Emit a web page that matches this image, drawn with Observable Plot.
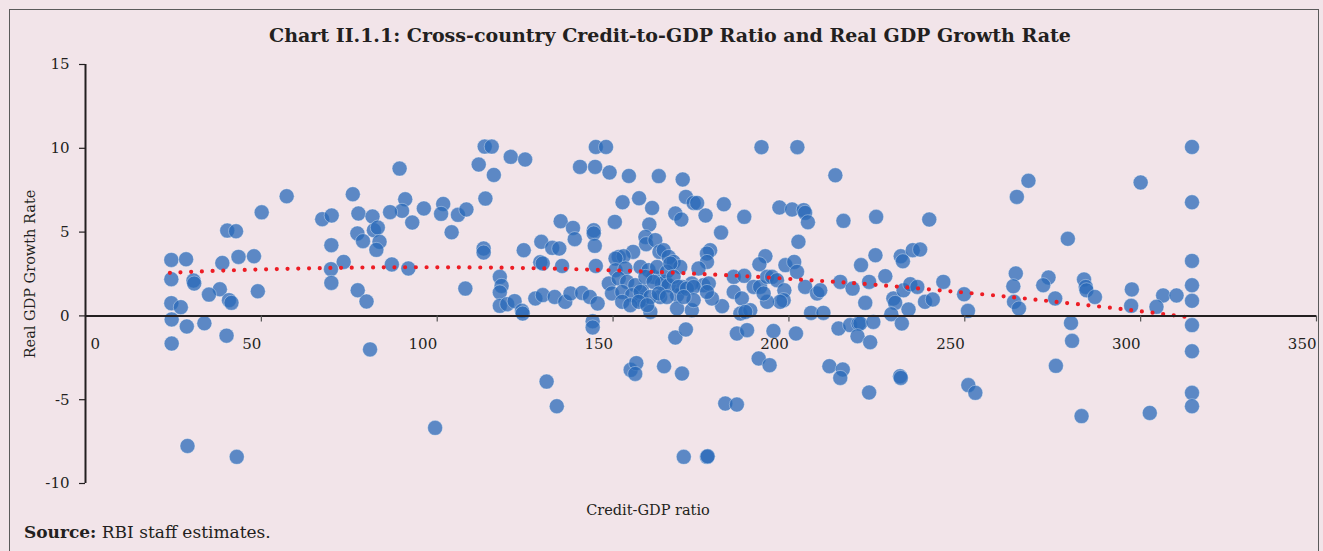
<!DOCTYPE html>
<html><head><meta charset="utf-8">
<script src="https://cdn.jsdelivr.net/npm/d3@7"></script>
<script src="https://cdn.jsdelivr.net/npm/@observablehq/plot@0.6"></script>
<style>
html,body{margin:0;padding:0;background:#f2e4e9;}
#wrap{position:relative;width:1323px;height:551px;overflow:hidden;background:#f2e4e9;font-family:"DejaVu Serif",serif;color:#231f20;}
#frame{position:absolute;left:9px;top:9px;width:1310px;height:600px;border:1.5px solid #5a5a5a;box-sizing:border-box;}
#title{position:absolute;top:24px;left:0;width:1340px;text-align:center;font-weight:bold;font-size:19px;}
#chart{position:absolute;left:0;top:0;}
#source{position:absolute;left:24px;top:522px;font-size:17px;}
</style></head><body>
<div id="wrap"><div id="frame"></div><div id="chart"></div>
<div id="title">Chart II.1.1: Cross-country Credit-to-GDP Ratio and Real GDP Growth Rate</div>
<div id="source"><b>Source:</b> RBI staff estimates.</div></div>
<script>
const credit = [57.2,50.1,76.0,77.6,81.6,82.0,83.1,67.3,70.0,40.3,42.8,69.9,77.3,78.9,83.6,82.7,24.4,28.6,38.9,43.5,47.9,73.4,69.8,24.4,30.7,30.9,69.9,38.2,35.1,49.0,77.4,79.9,40.8,41.5,24.4,27.1,24.5,28.8,33.8,40.1,24.5,80.9,29.0,43.0,87.1,89.3,90.9,90.0,86.6,92.9,96.2,91.8,99.4,
101.7,101.1,105.9,108.3,104.1,108.0,113.5,115.5,111.8,116.1,120.9,125.0,113.7,113.2,113.2,117.8,118.3,117.8,117.8,119.9,122.0,124.1,124.3,124.6,129.6,132.7,134.7,135.1,138.6,139.1,129.3,130.0,135.5,127.9,130.0,133.4,136.4,137.9,141.2,143.4,145.6,140.6,144.9,149.0,145.1,148.0,144.5,144.5,144.8,145.1,131.1,134.0,144.2,144.2,
154.5,152.7,157.4,161.1,160.3,150.5,163.0,155.7,151.6,153.0,159.2,159.4,162.0,163.2,155.0,156.6,156.3,164.5,169.6,192.2,202.4,169.8,170.7,172.9,173.9,181.5,167.7,169.4,176.3,187.3,180.7,197.3,200.9,204.2,204.6,205.4,202.7,193.3,191.6,199.0,201.5,202.3,164.4,165.8,167.2,169.1,177.6,176.7,176.7,174.3,184.3,187.3,190.0,191.8,193.8,195.2,196.6,198.7,198.5,197.5,193.8,192.8,204.6,208.0,208.9,184.3,186.6,186.2,189.0,187.6,206.3,181.0,178.1,175.7,172.4,169.6,168.2,172.4,168.2,163.4,160.6,158.2,158.2,161.5,164.8,163.9,167.7,170.7,185.2,188.1,195.6,202.0,191.4,194.5,181.9,185.2,170.1,176.7,176.9,
150.7,150.7,153.5,157.8,160.1,162.5,165.3,148.8,151.6,154.0,156.3,159.2,161.5,165.8,149.7,152.6,155.4,157.8,160.6,163.0,165.3,152.6,154.9,157.3,159.7,166.3,167.2,168.6,171.0,172.9,177.2,176.7,172.9,170.1,
213.2,215.5,224.8,239.9,224.6,231.8,232.4,235.2,237.3,220.5,227.4,243.9,214.6,218.1,222.8,221.7,229.7,230.2,232.6,234.5,236.5,238.7,240.9,249.8,250.9,209.8,234.0,229.1,214.1,217.4,219.8,220.3,224.0,232.1,219.5,223.1,211.5,215.3,214.6,222.8,231.6,231.8,251.0,253.0,
268.1,264.8,279.3,300.0,314.6,314.6,314.6,314.6,314.6,314.6,314.6,314.6,314.6,264.5,263.8,264.0,265.4,273.8,272.3,275.7,283.9,284.4,284.6,287.0,280.2,297.5,297.3,306.4,304.5,310.2,280.5,275.9,283.2,302.6];
const growth = [7.14,6.18,7.26,6.11,5.93,5.11,5.27,5.77,5.99,5.09,5.05,4.22,4.92,4.46,4.42,3.94,3.34,3.38,3.16,3.52,3.56,3.22,2.79,2.19,2.11,1.93,1.97,1.59,1.27,1.47,1.53,0.86,0.94,0.78,0.76,0.52,-0.21,-0.63,-0.44,-1.18,-1.65,-2.0,-7.76,-8.41,3.07,8.79,6.96,6.27,6.19,5.57,6.41,2.83,-6.68,
6.68,6.09,6.03,6.35,4.99,1.63,10.1,10.1,9.03,8.41,9.49,9.33,7.0,4.02,3.78,2.33,1.79,1.40,0.60,0.70,0.88,0.30,0.14,3.92,4.42,4.06,4.02,5.65,5.25,4.58,3.2,3.13,2.98,1.04,1.24,1.13,0.84,1.34,1.37,1.13,0.74,8.89,8.89,8.56,10.08,10.08,5.11,4.92,4.18,2.98,-3.92,-5.39,-0.32,-0.69,
8.35,6.78,7.02,6.44,5.45,5.61,8.34,3.82,3.52,3.56,4.71,4.28,4.52,3.82,-3.22,-2.82,-3.46,-3.0,-3.44,10.07,10.07,8.14,7.10,6.74,6.74,6.66,6.11,5.75,5.99,5.91,4.97,6.47,6.35,6.31,6.15,5.59,4.42,3.56,3.08,3.03,3.22,2.63,3.92,3.52,3.22,2.92,3.92,3.72,3.22,2.83,2.33,2.39,1.73,1.73,2.33,2.33,2.13,1.53,0.94,0.84,0.84,1.34,1.73,1.34,1.53,1.43,1.04,0.14,0.34,0.24,0.18,0.58,1.04,1.83,1.93,1.73,1.23,0.34,0.44,1.13,0.24,1.53,0.94,2.33,2.03,1.93,-1.29,-0.81,-1.05,-0.85,-0.9,-1.05,-2.54,-2.94,-5.23,-5.29,-8.41,-8.41,-8.38,
3.42,2.73,2.83,2.92,2.73,2.92,2.63,1.93,2.23,2.03,1.83,2.33,2.03,1.83,1.34,1.43,1.24,1.43,1.13,1.34,1.13,0.84,0.64,0.84,0.64,3.13,2.33,1.73,1.63,1.73,1.93,1.43,0.94,1.13,
8.39,5.67,5.91,5.75,3.62,3.56,3.26,3.92,3.96,3.03,2.37,2.03,2.03,1.63,2.03,0.78,1.04,0.78,1.53,1.89,1.73,0.84,0.98,1.29,0.30,0.18,0.38,0.10,-0.75,-0.55,-0.45,-0.45,-0.36,-0.45,-1.21,-1.57,-3.0,-3.2,-3.7,-4.57,-3.6,-3.7,-4.13,-4.59,
8.06,7.1,4.6,7.96,10.08,6.78,3.28,1.83,0.9,-0.55,-2.11,-4.59,-5.39,2.53,1.77,0.84,0.44,2.29,1.83,1.04,2.17,1.73,1.53,1.13,-0.42,1.58,0.6,1.22,0.54,1.22,-1.49,-2.98,-5.98,-5.79];
const trendX = [24,40,60,80,100,120,140,160,175,190,205,220,240,260,275,290,305,315];
const trendY = [2.57,2.71,2.82,2.89,2.9,2.87,2.78,2.64,2.5,2.34,2.14,1.93,1.58,1.19,0.86,0.52,0.15,-0.12];
const xTicks = [0,50,100,150,200,250,300,350];
const yTicks = [-10,-5,0,5,10,15];
const xLabel = "Credit-GDP ratio";
const yLabel = "Real GDP Growth Rate";

const pts = credit.map((c,i)=>({x:c,y:growth[i]}));
const trend = trendX.map((c,i)=>({x:c,y:trendY[i]}));
const ink = "#231f20";
const chart = Plot.plot({
  width:1323, height:551, marginLeft:85, marginRight:7, marginTop:64, marginBottom:68,
  x:{domain:[0,350], axis:null},
  y:{domain:[-10,15], axis:null},
  style:{background:"transparent", fontFamily:"DejaVu Serif", fontSize:"15px", color:ink},
  marks:[
    Plot.dot(pts,{x:"x",y:"y",r:7.5,fill:"#2969b8",fillOpacity:0.75,stroke:"#ffffff",strokeOpacity:0.35,strokeWidth:1}),
    Plot.line(trend,{x:"x",y:"y",curve:"natural",stroke:"#ed1c24",strokeWidth:4.2,strokeDasharray:"0 10.7",strokeLinecap:"round"}),
    Plot.ruleY([0],{y:d=>d,x1:d=>0,x2:d=>350,stroke:ink,strokeWidth:2}),
    Plot.ruleX([0],{x:d=>d,y1:d=>-10,y2:d=>15,stroke:ink,strokeWidth:2}),
    Plot.ruleX(xTicks.slice(1),{x:d=>d,y1:d=>0,y2:d=>0,insetBottom:-6,stroke:"#555",strokeWidth:1.2}),
    Plot.ruleY(yTicks,{y:d=>d,x1:d=>0,x2:d=>0,insetLeft:-6,stroke:ink,strokeWidth:1.2}),
    Plot.text(xTicks.slice(1),{x:d=>d,y:d=>0,text:d=>String(d),textAnchor:"end",dy:28,fontSize:15,fill:ink}),
    Plot.text(xTicks.slice(0,1),{x:d=>d,y:d=>0,text:d=>String(d),textAnchor:"start",dx:5,dy:28,fontSize:15,fill:ink}),
    Plot.text(yTicks,{x:d=>0,y:d=>d,text:d=>String(d),textAnchor:"end",dx:-16,fontSize:15,fill:ink}),
    Plot.text([xLabel],{frameAnchor:"bottom",text:d=>d,textAnchor:"middle",dx:-53,dy:31,fontSize:14.5,fill:ink}),
    Plot.text([yLabel],{frameAnchor:"left",text:d=>d,textAnchor:"middle",rotate:-90,dx:-55,fontSize:14.5,fill:ink})
  ]
});
document.getElementById("chart").appendChild(chart);
</script>
</body></html>
